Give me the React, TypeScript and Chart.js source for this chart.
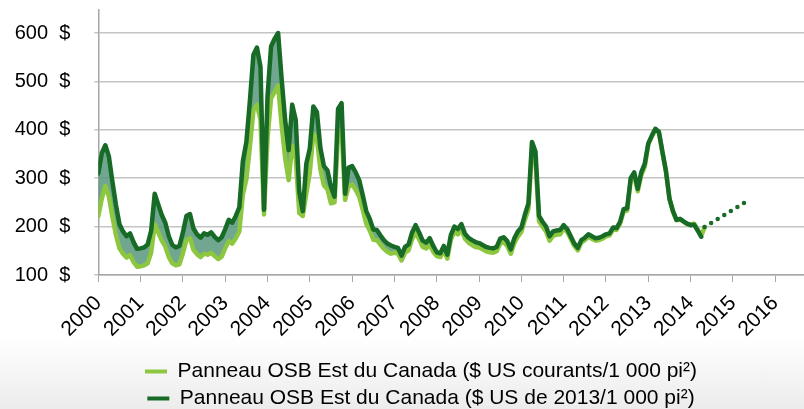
import React, { useEffect, useRef } from "react";
import { Chart, registerables } from "chart.js";

Chart.register(...registerables);

// Monthly series starting January 2000
const START_YEAR = 2000;

// Eastern Canada OSB, 2013 US$ / 1000 sq ft (dark green)
const osbReal2013 = [
  310, 352, 368, 345, 293, 245, 205, 190, 180, 186, 168, 154,
  155, 157, 163, 192, 268, 246, 224, 208, 180, 162, 157, 160,
  188, 222, 226, 196, 184, 177, 186, 183, 188, 179, 172, 178,
  195, 214, 208, 222, 240, 335, 375, 460, 555, 570, 530, 235,
  470, 572, 588, 600, 505, 420, 358, 452, 420, 272, 232, 330,
  362, 448, 437, 362, 325, 316, 282, 262, 443, 455, 268, 322,
  325, 312, 296, 265, 232, 216, 194, 193, 182, 172, 165, 161,
  158, 156, 140, 158, 163, 188, 203, 188, 171, 167, 176, 160,
  147, 145, 160, 142, 183, 200, 195, 205, 185, 177, 172, 168,
  166, 162, 158, 156, 155, 158, 175, 178, 170, 153, 176, 190,
  198, 225, 248, 375, 355, 222, 210, 200, 180, 190, 192, 193,
  203, 195, 180, 165, 156, 172, 177, 184, 180, 176, 177, 180,
  184, 186, 198, 197, 210, 236, 238, 300, 312, 278, 312, 330,
  372, 388, 402, 396, 355, 315, 258, 232, 214, 216, 211, 206,
  203, 204, 192, 179,
];

// Eastern Canada OSB, current US$ / 1000 sq ft (light green)
const osbCurrent = [
  222, 258, 284, 262, 220, 183, 155, 144, 136, 141, 127, 117,
  118, 120, 124, 147, 205, 188, 171, 159, 137, 124, 120, 122,
  145, 172, 176, 152, 143, 137, 144, 142, 146, 139, 133, 138,
  155, 170, 165, 176, 190, 266, 298, 365, 440, 452, 420, 225,
  382, 465, 478, 492, 410, 341, 296, 367, 341, 228, 222, 268,
  312, 392, 382, 318, 285, 277, 248, 250, 390, 400, 255, 283,
  287, 276, 262, 235, 206, 192, 173, 172, 163, 154, 148, 144,
  146, 144, 130, 146, 151, 174, 188, 174, 158, 155, 163, 148,
  139, 137, 151, 134, 173, 189, 184, 193, 175, 167, 162, 158,
  157, 153, 149, 147, 146, 149, 165, 168, 160, 144, 166, 179,
  189, 214, 236, 357, 338, 211, 200, 190, 171, 181, 183, 184,
  197, 189, 175, 160, 151, 167, 172, 179, 175, 171, 172, 175,
  180, 182, 194, 193, 206, 231, 233, 294, 306, 273, 306, 324,
  370, 386, 400, 394, 353, 314, 257, 231, 213, 215, 210, 205,
  205, 206, 194, 181, 199,
];

// Forecast (dotted)
const forecastYears = [2014.33, 2015.3];
const forecastValues = [199, 251];

const yearTicks = [
  2000, 2001, 2002, 2003, 2004, 2005, 2006, 2007, 2008,
  2009, 2010, 2011, 2012, 2013, 2014, 2015, 2016,
];
const valueTicks = [100, 200, 300, 400, 500, 600];

const labelCurrent = "Panneau OSB Est du Canada ($ US courants/1 000 pi²)";
const labelReal = "Panneau OSB Est du Canada ($ US de 2013/1 000 pi²)";

const DARK = "#176b27";
const LIGHT = "#8dc63f";
const BAND = "rgba(88,150,124,0.85)";

export default function App() {
  const ref = useRef<HTMLCanvasElement | null>(null);

  useEffect(() => {
    if (!ref.current) return;
    Chart.defaults.font.family = "'Liberation Sans', Arial, sans-serif";
    const toPoints = (vals: number[]) =>
      vals.map((v, i) => ({ x: START_YEAR + i / 12, y: v }));

    const chart = new Chart(ref.current, {
      type: "line",
      data: {
        datasets: [
          {
            label: labelCurrent,
            data: toPoints(osbCurrent),
            borderColor: LIGHT,
            backgroundColor: LIGHT,
            borderWidth: 4.5,
            pointRadius: 0,
            borderJoinStyle: "round",
            borderCapStyle: "round",
            fill: { target: 1, above: BAND, below: BAND },
            order: 2,
          },
          {
            label: labelReal,
            data: toPoints(osbReal2013),
            borderColor: DARK,
            backgroundColor: DARK,
            borderWidth: 4.5,
            pointRadius: 0,
            borderJoinStyle: "round",
            borderCapStyle: "round",
            fill: false,
            order: 1,
          },
          {
            label: "forecast",
            data: forecastYears.map((x, i) => ({ x, y: forecastValues[i] })),
            borderColor: DARK,
            backgroundColor: DARK,
            borderWidth: 4.5,
            borderDash: [0, 7.7],
            borderCapStyle: "round",
            pointRadius: 0,
            fill: false,
            order: 0,
          },
        ],
      } as any,
      options: {
        animation: false,
        responsive: true,
        maintainAspectRatio: false,
        events: [],
        layout: { padding: { top: 10, left: 12, right: -26, bottom: -10 } },
        plugins: {
          tooltip: { enabled: false },
          legend: {
            position: "bottom",
            align: "center",
            labels: {
              boxWidth: 22,
              boxHeight: 4,
              padding: 6,
              color: "#000",
              font: { size: 21 },
              sort: (a: any, b: any) => a.datasetIndex - b.datasetIndex,
              generateLabels: (c: any) =>
                (Chart.defaults.plugins.legend.labels as any)
                  .generateLabels(c)
                  .filter((it: any) => it.datasetIndex !== 2)
                  .map((it: any) => ({ ...it, fillStyle: it.strokeStyle, lineWidth: 0 })),
            },
          },
        },
        scales: {
          x: {
            type: "linear",
            min: 2000,
            max: 2016.68,
            afterBuildTicks: (s: any) => {
              s.ticks = yearTicks.map((v) => ({ value: v }));
            },
            afterFit: (s: any) => {
              s.height = 80;
              s.paddingLeft = 0;
              s.paddingRight = 0;
            },
            ticks: {
              autoSkip: false,
              maxRotation: 45,
              minRotation: 45,
              padding: 9,
              color: "#000",
              font: { size: 21 },
              callback: (v: any) => String(v),
            },
            grid: {
              drawOnChartArea: false,
              drawTicks: true,
              tickLength: 7,
              color: "#a6a6a6",
              lineWidth: 1,
            },
            border: { display: true, color: "#a6a6a6", width: 1.5 },
          },
          y: {
            min: 100,
            max: 647.5,
            afterBuildTicks: (s: any) => {
              s.ticks = valueTicks.map((v) => ({ value: v }));
            },
            afterFit: (s: any) => {
              s.width = 86.3;
              s.paddingTop = 0;
              s.paddingBottom = 0;
            },
            ticks: {
              padding: 24,
              color: "#000",
              font: { size: 20 },
              callback: (v: any) => `${v}  $`,
            },
            grid: {
              color: "#c4c4c4",
              lineWidth: 1.5,
              tickLength: 4,
              drawTicks: true,
            },
            border: { display: true, color: "#a6a6a6", width: 1.5 },
          },
        },
      } as any,
    });
    return () => chart.destroy();
  }, []);

  return (
    <div
      style={{
        position: "fixed",
        left: 0,
        top: 0,
        width: 804,
        height: 409,
        background: "linear-gradient(to bottom, #ffffff 0%, #ffffff 82%, #ececec 100%)",
      }}
    >
      <canvas ref={ref} />
    </div>
  );
}
